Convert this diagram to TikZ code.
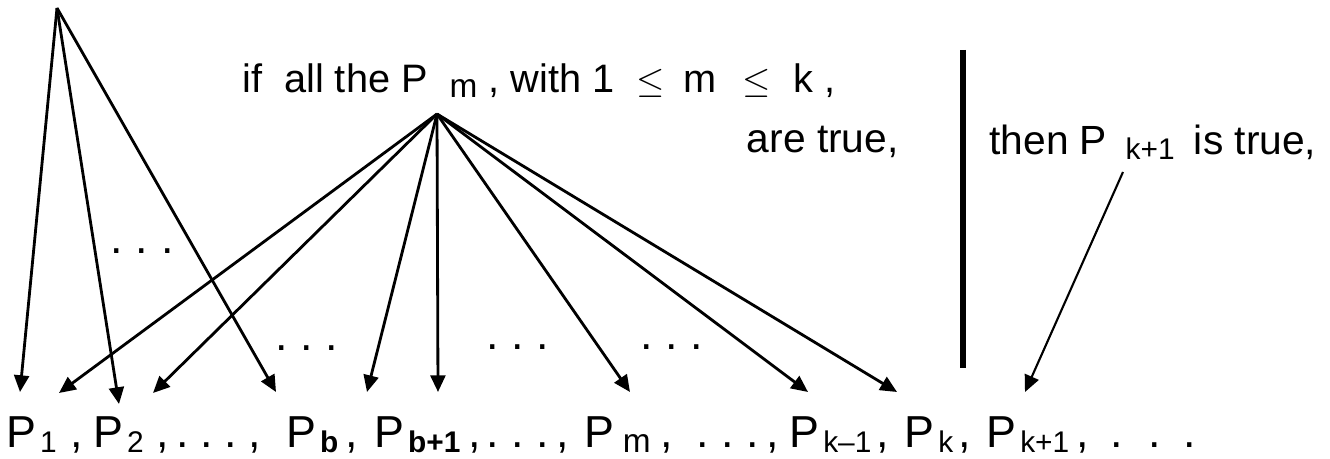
\documentclass[tikz,border=0pt]{standalone}
\usepackage{fontspec}
\setmainfont{Liberation Sans}
\usetikzlibrary{arrows.meta}
\newcommand{\sbs}[2][2pt]{\hspace{#1}\raisebox{-2.3pt}{\fontsize{17}{17}\selectfont #2}}
\newcommand{\sbm}[2][2pt]{\hspace{#1}\raisebox{-2.5pt}{\fontsize{19}{19}\selectfont #2}}

\begin{document}
\begin{tikzpicture}[x=0.02cm, y=-0.02cm,
		txt/.style={anchor=base west, inner sep=0pt, font=\fontsize{23.2}{26}\selectfont},
		term/.style={anchor=base west, inner sep=0pt, font=\fontsize{25.5}{30}\selectfont},
		sep/.style={anchor=base, inner sep=0pt, font=\fontsize{25.5}{30}\selectfont},
		arr/.style={line width=1.6pt, -{Triangle[length=9.5pt,width=8.5pt]}}]
	\useasboundingbox (0,0) rectangle (1330,459);

	% texts of the step
	\node[txt, font=\fontsize{22.6}{26}\selectfont] (hyp) at (242,93) {if\ \ all the P\sbm[12.5pt]{m} , with 1\hspace{12.5pt}$\leq$\hspace{11pt}m\hspace{14.5pt}$\leq$\hspace{13pt}k\hspace{6.5pt},};
	\node[txt] (true) at (746.5,153) {are true,};
	\node[txt] (concl) at (989,155) {then P\sbs[10.5pt]{k+1}\hspace{11pt}is true,};
	\draw[line width=3.6pt] (963,50) coordinate (bartop) -- (963,368) coordinate (barbot);

	% the row of statements
	\foreach \x/\t [count=\i] in {6.5/\sbs{1}, 93.5/\sbs{2}, 286.5/\sbs{\textbf{b}}, 374.5/\sbs{\textbf{b+1}}, 584.5/\sbm[4.7pt]{m}, 789.5/\sbs{k--1}, 904.5/\sbs{k}, 986.5/\sbs{k+1}} {
			\node[term] (p\i) at (\x,448) {P\t};
		}
	\foreach \x [count=\i] in {77, 163, 255, 352, 475, 563, 667, 773, 883, 965, 1083} {
			\node[sep] (c\i) at (\x,448) {,};
		}
	% dots
	\foreach \x/\y [count=\i] in {117/254, 142/254, 168/254, 282/351, 307/351, 332/351, 493/350, 518/350, 543/350,
			647/350, 672/350, 697/350, 183/448, 207/448, 231/448, 493/448, 518/448, 543/448,
			703/448, 728/448, 753/448, 1117/448, 1155/448, 1190/448} {
			\node[sep] (d\i) at (\x,\y) {.};
		}

	% sources and tips
	\coordinate (top) at (57,8);
	\coordinate (mid) at (437,114);
	\coordinate (next) at (1123,172);
	\foreach \x/\y [count=\i] in {20/392, 119/404, 276/392, 59/393, 153/393, 367/392, 438/392, 630/392, 808/392, 897/392, 1025/392} {
			\coordinate (t\i) at (\x,\y);
		}

	% arrows
	\foreach \i in {1,2,3} {
			\draw[arr] (top) -- (t\i);
		}
	\foreach \i in {4,...,10} {
			\draw[arr] (mid) -- (t\i);
		}
	\draw[arr, line width=1.2pt] (next) -- (t11);
\end{tikzpicture}
\end{document}
